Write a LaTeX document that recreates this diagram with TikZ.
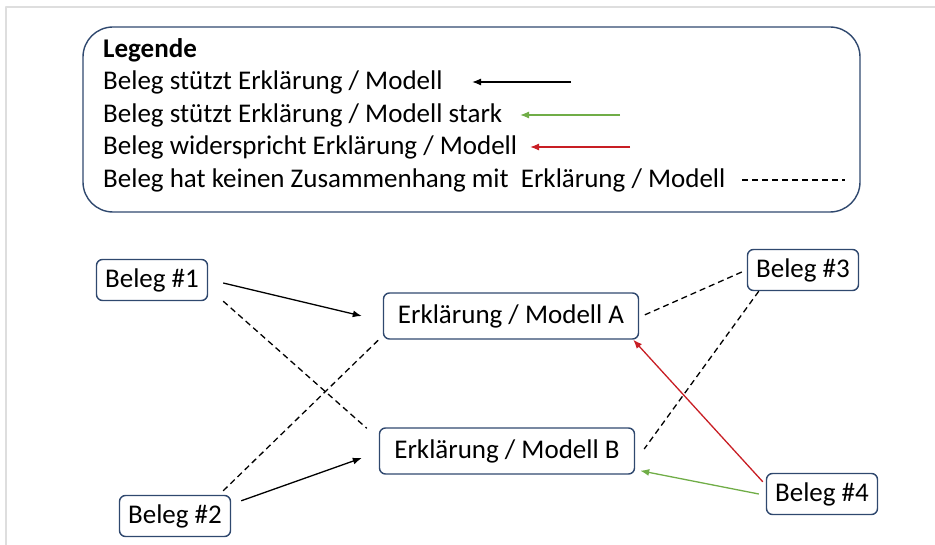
\documentclass[tikz,border=0pt]{standalone}
\usepackage{fontspec}
\setmainfont{Carlito}
\usepackage{xcolor}
\usetikzlibrary{arrows.meta,calc,positioning}
\definecolor{boxblue}{RGB}{47,72,110}
\definecolor{supgreen}{RGB}{112,173,71}
\definecolor{contrared}{RGB}{200,30,36}
\definecolor{framegray}{RGB}{222,222,222}
\tikzset{
  belegbox/.style={draw=boxblue, line width=1.4pt, rounded corners=6pt, minimum width=111pt, minimum height=41pt, inner sep=0pt, font=\fontsize{27}{32}\selectfont},
  modellbox/.style={belegbox, minimum width=255pt, minimum height=46pt},
  legtext/.style={anchor=west, inner sep=0pt, font=\fontsize{27}{32}\selectfont},
  supp/.style={-{Latex[length=9pt,width=7pt]}, line width=1.3pt},
  nolink/.style={dash pattern=on 6pt off 4pt, line width=1.3pt},
  every picture/.style={line join=round}
}

\begin{document}
\begin{tikzpicture}[x=1pt,y=-1pt]
  \useasboundingbox (0,0) rectangle (935,545);
  \draw[framegray, line width=2pt] (6,545) -- (6,7) -- (935,7);

  % Legende
  \draw[boxblue, line width=1.4pt, rounded corners=30pt] (83,27) rectangle (860,212);
  \node[legtext, font=\fontsize{27}{32}\selectfont\bfseries] (leg0) at (103,50) {Legende};
  \node[legtext] (leg1) at (103,82) {Beleg stützt Erklärung / Modell};
  \node[legtext] (leg2) at (103,115) {Beleg stützt Erklärung / Modell stark};
  \node[legtext] (leg3) at (103,147) {Beleg widerspricht Erklärung / Modell};
  \node[legtext] (leg4) at (103,180) {Beleg hat keinen Zusammenhang mit\ \ Erklärung / Modell};
  \coordinate (l1a) at (571,82);  \coordinate (l1b) at (472,82);
  \coordinate (l2a) at (620,115); \coordinate (l2b) at (520,115);
  \coordinate (l3a) at (630,147); \coordinate (l3b) at (530,147);
  \coordinate (l4a) at (742,180); \coordinate (l4b) at (845,180);
  \draw[supp] (l1a) -- (l1b);
  \draw[supp, supgreen] (l2a) -- (l2b);
  \draw[supp, contrared] (l3a) -- (l3b);
  \draw[nolink] (l4a) -- (l4b);

  % Belege und Modelle
  \node[belegbox] (b1) at (152,280) {Beleg \#1};
  \node[belegbox] (b2) at (175,516) {Beleg \#2};
  \node[belegbox] (b3) at (803,270) {Beleg \#3};
  \node[belegbox] (b4) at (822,494) {Beleg \#4};
  \node[modellbox] (ea) at (511,316) {Erklärung / Modell A};
  \node[modellbox] (eb) at (507,451) {Erklärung / Modell B};

  % Verbindungen
  \draw[supp] ([xshift=15pt,yshift=-3pt]b1.east) -- ([xshift=-21pt]ea.west);
  \draw[nolink] ([xshift=15pt]b1.south east) -- ([xshift=-12pt,yshift=-1pt]eb.north west);
  \draw[supp] ([xshift=10pt,yshift=-6pt]b2.north east) -- ([xshift=-17pt,yshift=-7pt]eb.west);
  \draw[nolink] ([xshift=-8pt,yshift=4pt]b2.north east) -- ([xshift=-2pt,yshift=2pt]ea.south west);
  \draw[nolink] ([xshift=-5pt,yshift=-2pt]b3.west) -- ([xshift=3pt]ea.east);
  \draw[nolink] ([xshift=12pt]b3.south west) -- ([xshift=9pt,yshift=2pt]eb.east);
  \draw[supp, contrared] ([xshift=-3pt,yshift=-9pt]b4.north west) -- ([xshift=-6pt]ea.south east);
  \draw[supp, supgreen] ([xshift=-7pt]b4.west) -- ([xshift=5pt,yshift=4pt]eb.south east);
\end{tikzpicture}
\end{document}
